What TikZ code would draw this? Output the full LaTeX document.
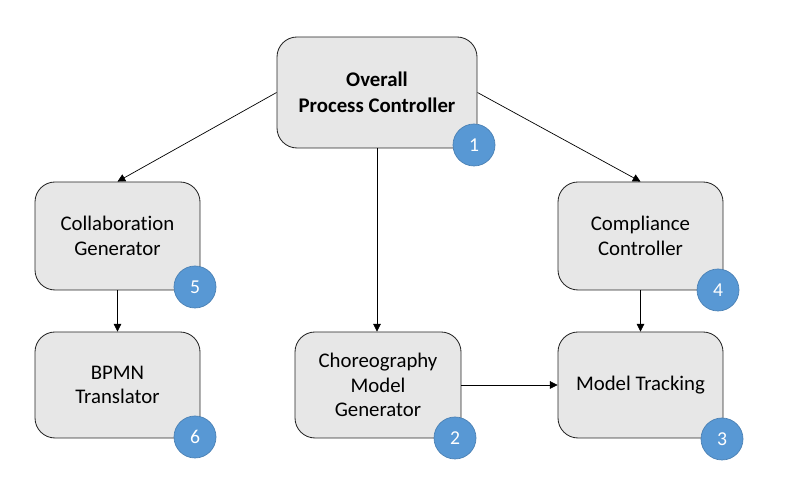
\documentclass[tikz,border=0pt]{standalone}
\usepackage{fontspec}
\setmainfont[Ligatures={NoCommon,NoContextual}]{Carlito}
\usepackage{tikz}
\usetikzlibrary{arrows.meta,positioning}

\begin{document}
\begin{tikzpicture}[
    box/.style={draw=black!85, line width=0.6pt, fill=boxgray, rounded corners=0.5cm,
        align=center, font=\fontsize{14.8}{17.5}\selectfont, inner sep=0pt},
    badge/.style={circle, fill=badgeblue, draw=badgeblue!85!black, line width=0.5pt,
        minimum size=1.05cm, inner sep=0pt, text=white, font=\fontsize{14}{16}\selectfont},
    link/.style={-{Triangle[length=5.5pt,width=5.5pt]}, line width=0.5pt, black}
]
    % Define colors
    \definecolor{boxgray}{RGB}{231,231,231}
    \definecolor{badgeblue}{RGB}{88,152,212}

    \useasboundingbox (0,0) rectangle (19.775,12.425);

    % The boxes
    \node[box, minimum width=5cm, minimum height=2.775cm,
        font=\fontsize{14.8}{18.5}\selectfont\bfseries] (overall) at (9.425,10.1125)
        {Overall\\Process Controller};
    \node[box, minimum width=4.125cm, minimum height=2.7cm] (collab) at (2.9375,6.525)
        {Collaboration\\Generator};
    \node[box, minimum width=4.125cm, minimum height=2.7cm] (compliance) at (16.0125,6.525)
        {Compliance\\Controller};
    \node[box, minimum width=4.125cm, minimum height=2.65cm] (bpmn) at (2.9375,2.8)
        {BPMN\\Translator};
    \node[box, minimum width=4.15cm, minimum height=2.65cm] (choreo) at (9.45,2.8)
        {Choreography\\Model\\Generator};
    \node[box, minimum width=4.125cm, minimum height=2.65cm] (tracking) at (16.0125,2.8)
        {Model Tracking};

    % Numbered badges
    \node[badge] (b1) at (11.85,8.8) {1};
    \node[badge] (b5) at (4.875,5.25) {5};
    \node[badge] (b4) at (17.95,5.175) {4};
    \node[badge] (b6) at (4.875,1.5) {6};
    \node[badge] (b2) at (11.375,1.475) {2};
    \node[badge] (b3) at (18.05,1.45) {3};

    % Connectors
    \draw[link] (overall.west) -- (collab.north);
    \draw[link] (overall.east) -- (compliance.north);
    \draw[link] (overall.south) -- (overall.south |- choreo.north);
    \draw[link] (collab.south) -- (bpmn.north);
    \draw[link] (compliance.south) -- (tracking.north);
    \draw[link] (choreo.east) -- (tracking.west);
\end{tikzpicture}
\end{document}
